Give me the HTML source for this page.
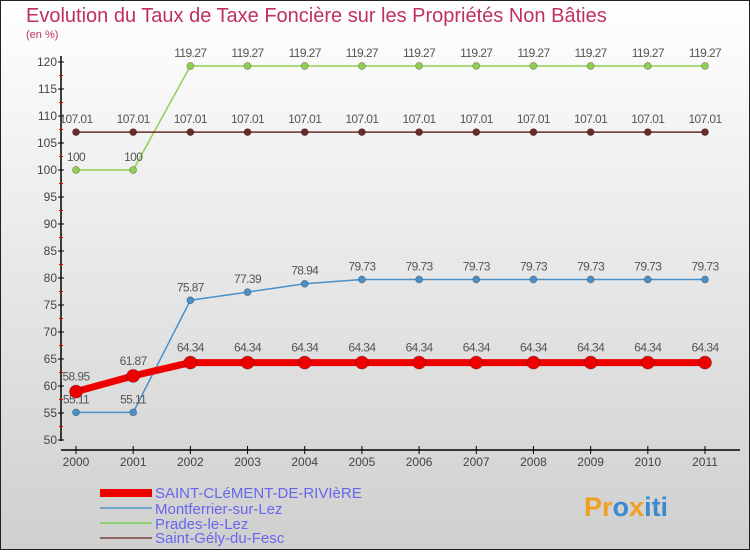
<!DOCTYPE html>
<html><head><meta charset="utf-8"><style>
body{margin:0;width:750px;height:550px;overflow:hidden}
svg text{font-family:"Liberation Sans","DejaVu Sans",sans-serif}
</style></head><body>
<svg width="750" height="550" xmlns="http://www.w3.org/2000/svg">
<defs><linearGradient id="bg" x1="0" y1="0" x2="0" y2="1"><stop offset="0" stop-color="#ffffff"/><stop offset="1" stop-color="#cfcfcf"/></linearGradient></defs>
<rect x="0.5" y="0.5" width="749" height="549" fill="url(#bg)" stroke="#222"/>
<text x="26" y="22" font-size="20" fill="#c0305f">Evolution du Taux de Taxe Foncière sur les Propriétés Non Bâties</text>
<text x="26" y="38" font-size="11" fill="#c0305f">(en %)</text>
<g id="axes"></g>
<g id="series"></g>
<g>
<rect x="100" y="489" width="52" height="8" fill="#ee0000"/>
<text x="155" y="498" font-size="15" fill="#6666ee">SAINT-CLéMENT-DE-RIVIèRE</text>
<line x1="100" y1="508" x2="152" y2="508" stroke="#6fa6c8" stroke-width="2"/>
<text x="155" y="514" font-size="15" fill="#6666ee">Montferrier-sur-Lez</text>
<line x1="100" y1="523" x2="152" y2="523" stroke="#8fd070" stroke-width="2"/>
<text x="155" y="529" font-size="15" fill="#6666ee">Prades-le-Lez</text>
<line x1="100" y1="538" x2="152" y2="538" stroke="#8e6464" stroke-width="2"/>
<text x="155" y="543" font-size="15" fill="#6666ee">Saint-Gély-du-Fesc</text>
</g>
<text x="584" y="516" font-size="27" font-weight="bold"><tspan fill="#f0a020">Pr</tspan><tspan fill="#3a8ad0">o</tspan><tspan fill="#f0a020">x</tspan><tspan fill="#3a8ad0">iti</tspan></text>
</svg>
<script>
const years=[2000,2001,2002,2003,2004,2005,2006,2007,2008,2009,2010,2011];
const yTicks=[50,55,60,65,70,75,80,85,90,95,100,105,110,115,120];
const stClement=[58.95,61.87,64.34,64.34,64.34,64.34,64.34,64.34,64.34,64.34,64.34,64.34];
const montferrier=[55.11,55.11,75.87,77.39,78.94,79.73,79.73,79.73,79.73,79.73,79.73,79.73];
const prades=[100,100,119.27,119.27,119.27,119.27,119.27,119.27,119.27,119.27,119.27,119.27];
const stGely=[107.01,107.01,107.01,107.01,107.01,107.01,107.01,107.01,107.01,107.01,107.01,107.01];
const NS="http://www.w3.org/2000/svg";
const xs=i=>76+i*(705-76)/(years.length-1);
const ys=v=>440-(v-50)*(440-62)/70;
function mk(tag,attrs,parent){const e=document.createElementNS(NS,tag);for(const k in attrs)e.setAttribute(k,attrs[k]);parent.appendChild(e);return e;}
const ax=document.getElementById('axes');
let l=mk('line',{x1:61,y1:56,x2:61,y2:441,stroke:'#000','stroke-width':1.5},ax);


l=mk('line',{x1:61,y1:450,x2:740,y2:450,stroke:'#000','stroke-width':1.5},ax);


yTicks.forEach((v,i)=>{const y=ys(v);
 mk('line',{x1:58,y1:y,x2:64,y2:y,stroke:'#000'},ax);
 if(i<yTicks.length-1)mk('line',{x1:59,y1:y-13.5,x2:63,y2:y-13.5,stroke:'#e00'},ax);
 const t=mk('text',{x:57,y:y+4,'font-size':12,fill:'#444','text-anchor':'end'},ax);t.textContent=v;
 
 
});
years.forEach((yr,i)=>{const x=xs(i);
 mk('line',{x1:x,y1:446,x2:x,y2:454,stroke:'#000'},ax);
 const t=mk('text',{x:x,y:466,'font-size':12,fill:'#444','text-anchor':'middle'},ax);t.textContent=yr;
 
 
});
const sg=document.getElementById('series');
function series(name,vals,color,w,r,labelOff){
 const g=mk('g',{},sg);
 
 
 mk('polyline',{points:vals.map((v,i)=>xs(i)+','+ys(v)).join(' '),fill:'none',stroke:color,'stroke-width':w,'stroke-linejoin':'round'},g);
 vals.forEach((v,i)=>{const c=mk('circle',{cx:xs(i),cy:ys(v),r:r,fill:color,stroke:'rgba(0,0,0,0.3)','stroke-width':0.8},g);
  
  
  const t=mk('text',{x:xs(i),y:ys(v)+labelOff,'font-size':12,fill:'#555','text-anchor':'middle','letter-spacing':'-0.6'},g);t.textContent=v;
  
  
 });
}
series('series-prades',prades,'#8fd050',1.5,3.5,-9);
series('series-saint-gely',stGely,'#6b2a2a',1.5,3.5,-9);
series('series-montferrier',montferrier,'#4a90c8',1.5,3.5,-9);
series('series-saint-clement',stClement,'#ee0000',7,6.5,-11);
</script>
</body></html>
